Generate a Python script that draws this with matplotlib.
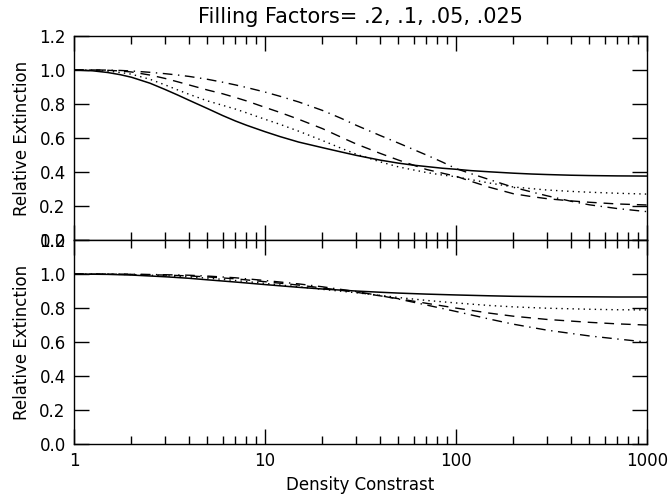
import numpy as np
import matplotlib
matplotlib.use("Agg")
import matplotlib.pyplot as plt
from matplotlib.ticker import FixedLocator, LogLocator, NullFormatter

# density contrast sample points (top panel)
x_top = [1, 1.25, 1.5, 1.75, 2, 2.5, 3, 3.5, 4, 5, 6, 7, 8, 10, 12, 15, 20, 25, 30, 40,
         50, 60, 70, 85, 100, 120, 150, 200, 250, 300, 400, 500, 700, 1000]
top_f20 = [1.000, 0.995, 0.985, 0.972, 0.957, 0.922, 0.885, 0.852, 0.822, 0.773, 0.732,
           0.700, 0.675, 0.637, 0.608, 0.576, 0.543, 0.518, 0.498, 0.470, 0.452, 0.440,
           0.432, 0.422, 0.416, 0.408, 0.401, 0.393, 0.388, 0.385, 0.381, 0.379, 0.377, 0.376]
top_f10 = [1.000, 0.998, 0.993, 0.985, 0.975, 0.945, 0.912, 0.882, 0.857, 0.818, 0.792,
           0.770, 0.748, 0.710, 0.680, 0.640, 0.585, 0.540, 0.505, 0.460, 0.430, 0.412,
           0.397, 0.382, 0.372, 0.355, 0.335, 0.312, 0.302, 0.294, 0.286, 0.281, 0.275, 0.270]
top_f05 = [1.000, 1.000, 0.998, 0.994, 0.988, 0.970, 0.950, 0.930, 0.912, 0.882, 0.860,
           0.838, 0.818, 0.780, 0.750, 0.710, 0.655, 0.605, 0.565, 0.510, 0.470, 0.440,
           0.415, 0.393, 0.375, 0.345, 0.310, 0.272, 0.255, 0.243, 0.230, 0.222, 0.212, 0.206]
top_f025 = [1.000, 1.000, 0.999, 0.997, 0.994, 0.986, 0.978, 0.970, 0.962, 0.945, 0.928,
            0.912, 0.897, 0.870, 0.845, 0.812, 0.762, 0.716, 0.675, 0.615, 0.570, 0.532,
            0.500, 0.458, 0.420, 0.390, 0.355, 0.310, 0.282, 0.260, 0.228, 0.207, 0.185, 0.167]

# bottom panel
x_bot = [1, 1.5, 2, 3, 4, 5, 7, 10, 15, 20, 30, 40, 50, 70, 100, 150, 200, 300, 500, 700, 1000]
bot_f20 = [1.0, 0.998, 0.994, 0.984, 0.975, 0.966, 0.953, 0.938, 0.922, 0.912, 0.900, 0.893,
           0.888, 0.882, 0.877, 0.872, 0.869, 0.867, 0.866, 0.865, 0.865]
bot_f10 = [1.0, 0.999, 0.997, 0.990, 0.983, 0.976, 0.962, 0.945, 0.925, 0.910, 0.890, 0.875,
           0.862, 0.845, 0.830, 0.815, 0.807, 0.799, 0.793, 0.790, 0.789]
bot_f05 = [1.0, 0.999, 0.998, 0.994, 0.989, 0.983, 0.972, 0.955, 0.935, 0.918, 0.893, 0.872,
           0.855, 0.828, 0.800, 0.770, 0.752, 0.733, 0.716, 0.707, 0.700]
bot_f025 = [1.0, 1.0, 0.999, 0.996, 0.993, 0.988, 0.978, 0.962, 0.942, 0.925, 0.897, 0.873,
            0.853, 0.818, 0.780, 0.735, 0.705, 0.670, 0.636, 0.618, 0.600]

yticks = [0.0, 0.2, 0.4, 0.6, 0.8, 1.0, 1.2]
xticks = [1, 10, 100, 1000]
xticklabels = ["1", "10", "100", "1000"]

plt.rcParams["font.family"] = "DejaVu Sans"

fig = plt.figure(figsize=(6.69, 4.99), dpi=100)
ax1 = fig.add_axes([0.1106, 0.519, 0.8564, 0.409])
ax2 = fig.add_axes([0.1106, 0.110, 0.8564, 0.409])

styles = [
    dict(ls="-", lw=1.1),
    dict(ls=(0, (1, 3)), lw=1.0),
    dict(ls=(0, (7, 5)), lw=1.0),
    dict(ls=(0, (7, 4, 1, 4)), lw=1.0),
]

for y, st in zip([top_f20, top_f10, top_f05, top_f025], styles):
    ax1.plot(x_top, y, color="black", **st)
for y, st in zip([bot_f20, bot_f10, bot_f05, bot_f025], styles):
    ax2.plot(x_bot, y, color="black", **st)

for ax in (ax1, ax2):
    ax.set_xscale("log")
    ax.set_xlim(1, 1000)
    ax.set_ylim(0, 1.2)
    ax.xaxis.set_major_locator(FixedLocator(xticks))
    ax.xaxis.set_minor_locator(LogLocator(base=10, subs=np.arange(2, 10)))
    ax.xaxis.set_minor_formatter(NullFormatter())
    ax.set_yticks(yticks)
    ax.set_yticklabels(["%.1f" % v for v in yticks])
    ax.tick_params(which="both", direction="in", top=True, right=True, colors="black",
                   labelsize=12, width=1)
    ax.tick_params(which="major", length=11, pad=6)
    ax.tick_params(which="minor", length=6)
    ax.set_ylabel("Relative Extinction", fontsize=12, labelpad=6)
    for s in ax.spines.values():
        s.set_linewidth(1.0)

ax1.set_xticklabels([])
ax2.set_xticklabels(xticklabels)
ax2.set_xlabel("Density Constrast", fontsize=12)
ax1.set_title("Filling Factors= .2, .1, .05, .025", fontsize=15, pad=9)

fig.savefig("out.png", dpi=100)
